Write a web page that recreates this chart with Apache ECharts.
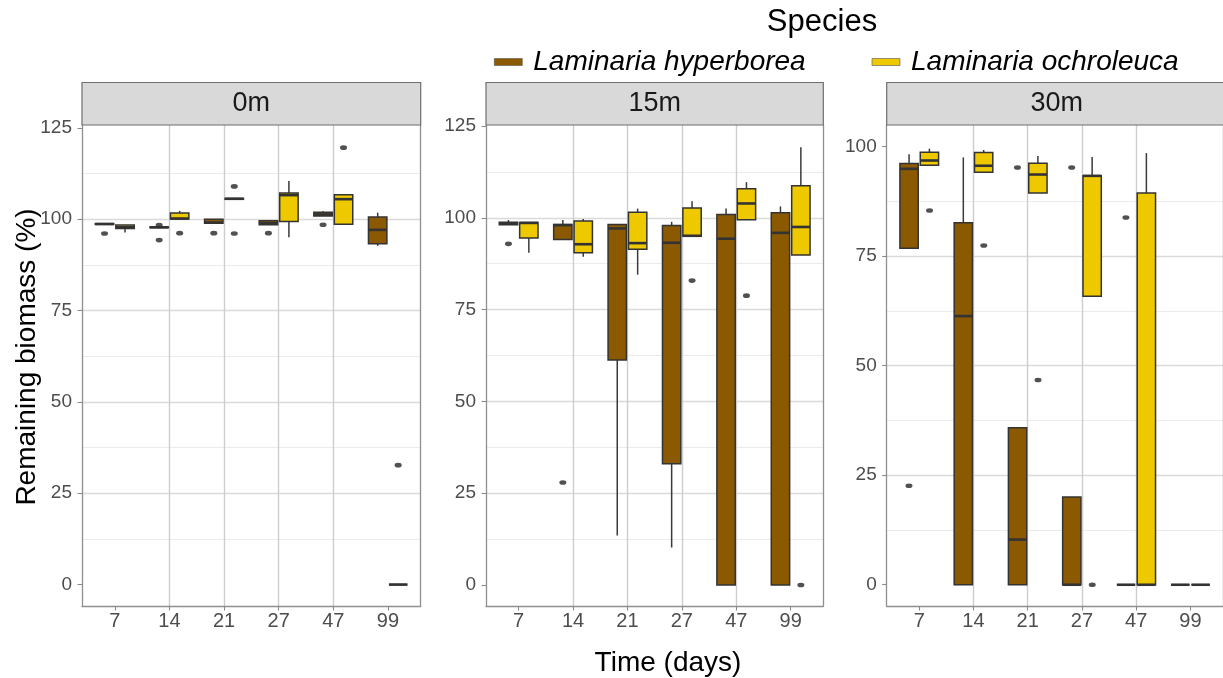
<!DOCTYPE html>
<html>
<head>
<meta charset="utf-8">
<script src="https://cdn.jsdelivr.net/npm/echarts@6/dist/echarts.min.js"></script>
<style>
  html, body { margin: 0; padding: 0; background: #ffffff; }
  #chart { width: 1223px; height: 678px; }
</style>
</head>
<body>
<div id="chart"></div>
<script>
// ---------------- data ----------------
const days = ['7', '14', '21', '27', '47', '99'];
const depths = ['0m', '15m', '30m'];
const speciesNames = ['Laminaria hyperborea', 'Laminaria ochroleuca'];
const yTickValues = [0, 25, 50, 75, 100, 125];
const yTickValues30 = [0, 25, 50, 75, 100];

// box stats per day: [min, Q1, median, Q3, max]
const hyp0m = [
  [98.6, 98.6, 98.7, 98.8, 98.8],
  [97.7, 97.7, 97.8, 97.9, 97.9],
  [98.9, 98.9, 99.1, 100.0, 100.0],
  [98.5, 98.5, 98.9, 99.6, 99.8],
  [100.9, 100.9, 101.3, 101.9, 102.2],
  [92.7, 93.3, 97.1, 100.6, 101.8]
];
const och0m = [
  [96.4, 97.5, 97.8, 98.4, 98.4],
  [100.1, 100.1, 100.2, 101.7, 102.3],
  [105.5, 105.5, 105.6, 105.7, 105.7],
  [95.1, 99.4, 106.6, 107.2, 110.5],
  [98.6, 98.6, 105.5, 106.7, 106.7],
  [0, 0, 0, 0, 0]
];
const hyp15m = [
  [98.1, 98.1, 98.5, 98.8, 99.4],
  [94.1, 94.1, 98.0, 98.2, 99.4],
  [13.5, 61.3, 97.1, 98.2, 98.2],
  [10.2, 33.0, 93.2, 97.9, 98.9],
  [0, 0, 94.3, 100.9, 102.5],
  [0, 0, 95.9, 101.4, 103.1]
];
const och15m = [
  [90.5, 94.5, 98.6, 98.7, 98.7],
  [89.4, 90.5, 92.8, 99.1, 99.7],
  [84.5, 91.4, 93.1, 101.5, 102.5],
  [95.0, 95.0, 95.1, 102.7, 104.5],
  [99.5, 99.5, 103.9, 107.9, 109.7],
  [89.9, 89.9, 97.5, 108.7, 119.2]
];
const hyp30m = [
  [76.8, 76.8, 94.9, 96.1, 98.2],
  [0, 0, 61.3, 82.6, 97.5],
  [0, 0, 10.3, 35.8, 35.8],
  [0, 0, 0, 20.0, 20.0],
  [0, 0, 0, 0, 0],
  [0, 0, 0, 0, 0]
];
const och30m = [
  [95.7, 95.7, 96.8, 98.7, 99.5],
  [94.1, 94.1, 95.6, 98.6, 99.2],
  [89.4, 89.4, 93.6, 96.2, 97.8],
  [65.8, 65.8, 93.3, 93.3, 97.6],
  [0, 0, 0, 89.4, 98.5],
  [0, 0, 0, 0, 0]
];

// outliers: [day, value]
const hyp0mOut = [['7', 96.1], ['14', 98.4], ['14', 94.3], ['21', 96.2], ['27', 96.2], ['47', 98.5]];
const och0mOut = [['14', 96.2], ['21', 109.0], ['21', 96.1], ['47', 119.6], ['99', 32.7]];
const hyp15mOut = [['7', 92.9], ['14', 27.9]];
const och15mOut = [['27', 82.9], ['47', 78.8], ['99', 0]];
const hyp30mOut = [['7', 22.6], ['21', 95.2], ['27', 95.2], ['47', 83.8]];
const och30mOut = [['7', 85.4], ['14', 77.4], ['21', 46.7], ['27', 0]];

// ---------------- layout / style ----------------
const FONT = '"Liberation Sans", Arial, Helvetica, sans-serif';
const colors = ['#8B5A00', '#EEC900'];
const panels = [
  { left: 82, width: 338.7, ymin: -5.86, ymax: 125.8, ticks: yTickValues, boxes: [hyp0m, och0m], outs: [hyp0mOut, och0mOut] },
  { left: 486, width: 337.3, ymin: -5.72, ymax: 125.27, ticks: yTickValues, boxes: [hyp15m, och15m], outs: [hyp15mOut, och15mOut] },
  { left: 886.7, width: 340, ymin: -4.85, ymax: 104.9, ticks: yTickValues30, boxes: [hyp30m, och30m], outs: [hyp30mOut, och30mOut] }
];
const TOP = 125, HEIGHT = 481;
const frameColor = '#8f8f8f';
const catIdx = days.map((d, i) => i + 1);

function minorTicks(major) {
  const out = [];
  for (let i = 0; i < major.length; i++) {
    out.push(major[i]);
    if (i < major.length - 1) out.push((major[i] + major[i + 1]) / 2);
  }
  return out;
}

function boxRenderer(side) {
  return function (params, api) {
    const i = api.value(0);
    const band = api.size([1, 0])[0];
    const off = side * 0.1875 * band;
    const hw = 0.16875 * band;
    const pMin = api.coord([i, api.value(1)]);
    const pQ1 = api.coord([i, api.value(2)]);
    const pMed = api.coord([i, api.value(3)]);
    const pQ3 = api.coord([i, api.value(4)]);
    const pMax = api.coord([i, api.value(5)]);
    const cx = pMin[0] + off;
    const color = api.visual('color');
    const ls = { stroke: '#3a3a3a', lineWidth: 1.5 };
    return {
      type: 'group',
      children: [
        { type: 'line', shape: { x1: cx, y1: pMax[1], x2: cx, y2: pQ3[1] }, style: ls },
        { type: 'line', shape: { x1: cx, y1: pQ1[1], x2: cx, y2: pMin[1] }, style: ls },
        { type: 'rect', shape: { x: cx - hw, y: pQ3[1], width: 2 * hw, height: Math.max(pQ1[1] - pQ3[1], 0) },
          style: { fill: color, stroke: '#333333', lineWidth: 1.5 } },
        { type: 'line', shape: { x1: cx - hw, y1: pMed[1], x2: cx + hw, y2: pMed[1] },
          style: { stroke: '#333333', lineWidth: 2.6 } }
      ]
    };
  };
}

const grids = [], xAxes = [], yAxes = [], series = [], graphics = [];

panels.forEach((p, pi) => {
  grids.push({ left: p.left, top: TOP, width: p.width, height: HEIGHT, containLabel: false });
  xAxes.push({
    gridIndex: pi, type: 'value', min: 0.4, max: 6.6, minInterval: 1, maxInterval: 1, z: 0,
    axisLine: { show: true, onZero: false, lineStyle: { color: frameColor, width: 1.3 } },
    axisTick: { show: true, length: 4.5, customValues: catIdx, lineStyle: { color: '#8a8a8a', width: 1.1 } },
    axisLabel: {
      customValues: catIdx, margin: 5, fontSize: 20, color: '#4d4d4d',
      fontFamily: '"Liberation Sans Narrow", "Liberation Sans", Arial, sans-serif',
      formatter: v => days[Math.round(v) - 1] || ''
    },
    splitLine: { show: true, showMinLine: false, showMaxLine: false, lineStyle: { color: '#cdcdcd', width: 1.4 } }
  });
  // minor grid axis
  yAxes.push({
    gridIndex: pi, type: 'value', position: 'left', min: p.ymin, max: p.ymax,
    minInterval: 12.5, maxInterval: 12.5, z: 0,
    axisLine: { show: false }, axisTick: { show: false, customValues: minorTicks(p.ticks) },
    axisLabel: { show: false, customValues: minorTicks(p.ticks) },
    splitLine: { show: true, showMinLine: false, showMaxLine: false, lineStyle: { color: '#ebebeb', width: 1 } }
  });
  // major axis
  yAxes.push({
    gridIndex: pi, type: 'value', position: 'left', min: p.ymin, max: p.ymax,
    minInterval: 25, maxInterval: 25, z: 0,
    axisLine: { show: true, onZero: false, lineStyle: { color: frameColor, width: 1.3 } },
    axisTick: { show: true, length: 4.5, customValues: p.ticks, lineStyle: { color: '#8a8a8a', width: 1.1 } },
    axisLabel: { customValues: p.ticks, margin: 10, fontSize: 19, color: '#4d4d4d', fontFamily: FONT },
    splitLine: { show: true, showMinLine: false, showMaxLine: false, lineStyle: { color: '#dadada', width: 1.3 } }
  });
  // right border
  yAxes.push({
    gridIndex: pi, type: 'value', position: 'right', min: p.ymin, max: p.ymax, z: 0,
    axisLine: { show: true, onZero: false, lineStyle: { color: frameColor, width: 1.3 } },
    axisTick: { show: false }, axisLabel: { show: false }, splitLine: { show: false }
  });

  const yIdx = pi * 3 + 1;
  [0, 1].forEach(s => {
    series.push({
      type: 'custom', name: speciesNames[s], xAxisIndex: pi, yAxisIndex: yIdx,
      itemStyle: { color: colors[s] }, z: 2,
      renderItem: boxRenderer(s === 0 ? -1 : 1),
      encode: { x: 0, y: [1, 2, 3, 4, 5] },
      data: p.boxes[s].map((b, i) => [i + 1].concat(b))
    });
  });
  const band = p.width / 6.2;
  [0, 1].forEach(s => {
    series.push({
      type: 'scatter', xAxisIndex: pi, yAxisIndex: yIdx, z: 3,
      symbol: 'circle', symbolSize: [7, 4.6],
      symbolOffset: [(s === 0 ? -1 : 1) * 0.1875 * band, 0],
      itemStyle: { color: '#262626' }, silent: true,
      data: p.outs[s].map(o => [days.indexOf(o[0]) + 1, o[1]])
    });
  });

  // facet strip
  graphics.push({
    type: 'group', children: [
      { type: 'rect', shape: { x: p.left, y: 82.5, width: p.width, height: 42.5 },
        style: { fill: '#d9d9d9', stroke: '#6e6e6e', lineWidth: 1.2 }, z: 10 },
      { type: 'text', x: p.left + p.width / 2, y: 104, z: 11,
        style: { text: depths[pi], fontSize: 27, fill: '#1a1a1a', fontFamily: FONT, align: 'center', verticalAlign: 'middle' } }
    ]
  });
});

graphics.push(
  { type: 'text', x: 822, y: 22, style: { text: 'Species', fontSize: 31, fill: '#000', fontFamily: FONT, align: 'center', verticalAlign: 'middle' } },
  { type: 'text', x: 27, y: 357, rotation: Math.PI / 2,
    style: { text: 'Remaining biomass (%)', fontSize: 28, fill: '#000', fontFamily: FONT, align: 'center', verticalAlign: 'middle' } },
  { type: 'text', x: 668, y: 663, style: { text: 'Time (days)', fontSize: 28, fill: '#000', fontFamily: FONT, align: 'center', verticalAlign: 'middle' } }
);

const chart = echarts.init(document.getElementById('chart'), null, { renderer: 'canvas' });
chart.setOption({
  backgroundColor: '#ffffff',
  animation: false,
  legend: {
    data: speciesNames, left: 489, top: 43, icon: 'rect', itemWidth: 28, itemHeight: 7, itemGap: 66,
    textStyle: { fontSize: 28, fontStyle: 'italic', color: '#000', fontFamily: FONT, padding: [0, 0, 0, 6] },
    itemStyle: { borderColor: '#555', borderWidth: 0.6 }
  },
  grid: grids,
  xAxis: xAxes,
  yAxis: yAxes,
  series: series,
  graphic: graphics
});
</script>
</body>
</html>
